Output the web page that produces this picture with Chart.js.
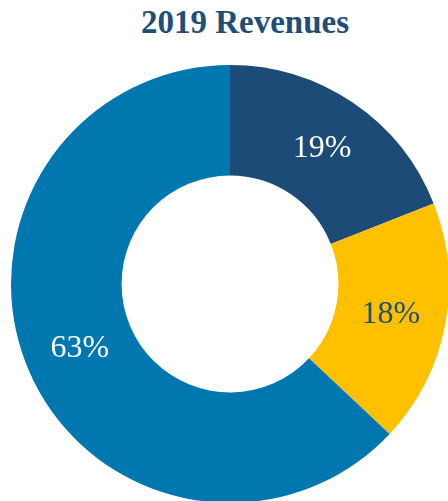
<!DOCTYPE html>
<html>
<head>
<meta charset="utf-8">
<script src="https://cdn.jsdelivr.net/npm/chart.js@4"></script>
<style>
    html, body { margin: 0; padding: 0; width: 448px; height: 501px; overflow: hidden; background: #fff; }
    #titulo {
        position: absolute; left: 0; top: 4px; width: 490px; text-align: center;
        font-family: "Liberation Serif", "DejaVu Serif", serif; font-weight: bold;
        font-size: 33px; color: #1f4e79;
    }
    #wrap { position: absolute; left: 11px; top: 65px; width: 438px; height: 438px; }
</style>
</head>
<body>
<div id="titulo">2019 Revenues</div>
<div id="wrap"><canvas id="chartRevenues"></canvas></div>
<script>
// Datos
const categorias = ['Segment A', 'Segment B', 'Segment C'];
const valores = [19, 18, 63];
const colores = ['#1b4b76', '#ffc000', '#0077ae'];
const coloresTexto = ['#ffffff', '#1f4e79', '#ffffff'];

// Etiquetas de porcentaje en cada segmento
const etiquetasPlugin = {
    id: 'etiquetas',
    afterDatasetsDraw(chart) {
        const ctx = chart.ctx;
        const meta = chart.getDatasetMeta(0);
        ctx.save();
        ctx.font = '32px "Liberation Serif", serif';
        ctx.textAlign = 'center';
        ctx.textBaseline = 'middle';
        meta.data.forEach((arc, i) => {
            const pos = arc.tooltipPosition();
            ctx.fillStyle = coloresTexto[i];
            ctx.fillText(valores[i] + '%', pos.x, pos.y);
        });
        ctx.restore();
    }
};

new Chart(document.getElementById('chartRevenues'), {
    type: 'doughnut',
    data: {
        labels: categorias,
        datasets: [{
            data: valores,
            backgroundColor: colores,
            borderWidth: 0
        }]
    },
    options: {
        responsive: true,
        maintainAspectRatio: false,
        animation: false,
        cutout: '49.5%',
        plugins: {
            legend: { display: false },
            tooltip: { enabled: false }
        },
        layout: { padding: 0 }
    },
    plugins: [etiquetasPlugin]
});
</script>
</body>
</html>
